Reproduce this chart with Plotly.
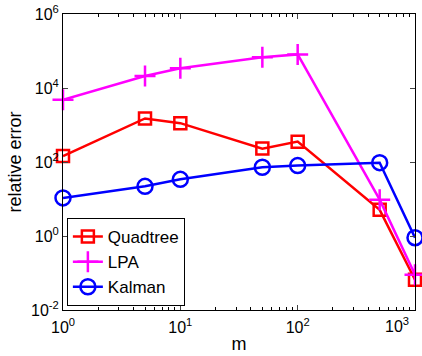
import plotly.graph_objects as go

m = [1, 5, 10, 50, 100, 500, 1000]
quadtree = [145, 1500, 1120, 230, 355, 5.1, 0.066]
lpa = [4800, 21000, 34000, 68000, 81000, 9.6, 0.09]
kalman = [10.7, 22, 34, 72, 80, 96, 0.9]

x_ticks = [1, 10, 100, 1000]
x_tick_text = ["10<sup>0</sup>", "10<sup>1</sup>", "10<sup>2</sup>", "10<sup>3</sup>"]
y_ticks = [1e-2, 1, 1e2, 1e4, 1e6]
y_tick_text = ["10<sup>-2</sup>", "10<sup>0</sup>", "10<sup>2</sup>", "10<sup>4</sup>", "10<sup>6</sup>"]

fig = go.Figure()
fig.add_trace(go.Scatter(x=m, y=quadtree, name="Quadtree", mode="lines+markers", cliponaxis=False,
                         line=dict(color="#ff0000", width=2.5),
                         marker=dict(symbol="square-open", size=12, color="#ff0000", line=dict(width=2.5))))
fig.add_trace(go.Scatter(x=m, y=lpa, name="LPA", mode="lines+markers", cliponaxis=False,
                         line=dict(color="#ff00ff", width=2.5),
                         marker=dict(symbol="cross-thin-open", size=15, color="#ff00ff", line=dict(width=2.5, color="#ff00ff"))))
fig.add_trace(go.Scatter(x=m, y=kalman, name="Kalman", mode="lines+markers", cliponaxis=False,
                         line=dict(color="#0000ff", width=2.5),
                         marker=dict(symbol="circle-open", size=15, color="#0000ff", line=dict(width=2.5))))

minor_x = [k * 10 ** e for e in range(0, 3) for k in range(2, 10)]

# last x tick label is drawn as an annotation shifted left so it fits inside the figure (as in the reference)
shown_x_text = x_tick_text[:-1] + [""]

fig.update_xaxes(type="log", range=[0, 3], tickvals=x_ticks, ticktext=shown_x_text,
                 ticks="inside", ticklen=5, mirror="allticks", showline=True, linecolor="black",
                 linewidth=1, showgrid=False, zeroline=False, automargin=False, ticklabelstandoff=3,
                 minor=dict(tickvals=minor_x, ticks="inside", ticklen=3, tickcolor="black", showgrid=False),
                 title=dict(text="m", font=dict(size=18, color="black"), standoff=2),
                 tickfont=dict(size=16, color="black"))
fig.update_yaxes(type="log", range=[-2, 6], tickvals=y_ticks, ticktext=y_tick_text,
                 ticks="inside", ticklen=5, mirror="allticks", showline=True, linecolor="black",
                 linewidth=1, showgrid=False, zeroline=False, automargin=False,
                 title=dict(text="relative error", font=dict(size=18, color="black"), standoff=4),
                 tickfont=dict(size=16, color="black"))

fig.add_annotation(x=3, xref="x", y=0, yref="paper", text=x_tick_text[-1], showarrow=False,
                   xanchor="right", yanchor="top", xshift=-4, yshift=-3,
                   font=dict(size=16, color="black"))

fig.update_layout(
    width=422, height=356,
    margin=dict(l=63, r=7, t=14, b=46),
    plot_bgcolor="white", paper_bgcolor="white",
    font=dict(family="Arial, Liberation Sans, sans-serif", color="black"),
    legend=dict(x=0.011, y=0.0135, xanchor="left", yanchor="bottom",
                bgcolor="white", bordercolor="black", borderwidth=1,
                font=dict(size=17, color="black"), tracegroupgap=0, itemwidth=30),
    showlegend=True,
)

fig.write_html("out.html")
